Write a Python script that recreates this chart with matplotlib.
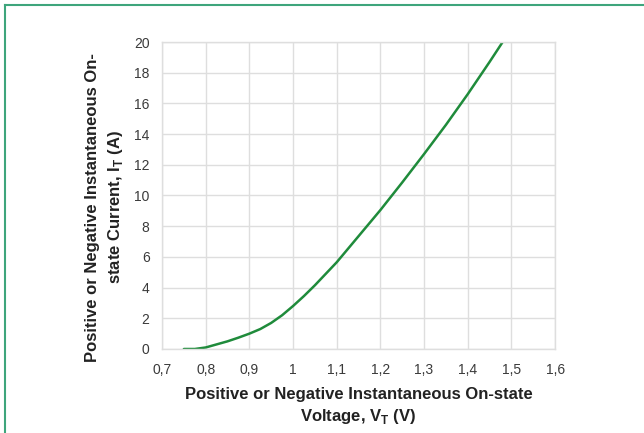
import matplotlib
matplotlib.use("Agg")
import matplotlib.pyplot as plt
from matplotlib.lines import Line2D
import numpy as np

# curve
voltage = [0.75, 0.775, 0.80, 0.825, 0.85, 0.875, 0.90, 0.925, 0.95, 0.975, 1.00, 1.025, 1.05, 1.075,
           1.10, 1.15, 1.20, 1.25, 1.30, 1.35, 1.40, 1.45, 1.48]
current = [0.0, 0.0, 0.1, 0.3, 0.5, 0.74, 1.0, 1.3, 1.7, 2.2, 2.8, 3.45, 4.15, 4.9,
           5.65, 7.35, 9.05, 10.85, 12.7, 14.6, 16.6, 18.7, 20.0]

x_ticks = [0.7, 0.8, 0.9, 1.0, 1.1, 1.2, 1.3, 1.4, 1.5, 1.6]
x_labels = ["0,7", "0,8", "0,9", "1", "1,1", "1,2", "1,3", "1,4", "1,5", "1,6"]
y_ticks = [0, 2, 4, 6, 8, 10, 12, 14, 16, 18, 20]

plt.rcParams['font.family'] = ['Liberation Sans', 'DejaVu Sans']
plt.rcParams['mathtext.fontset'] = 'custom'
plt.rcParams['mathtext.rm'] = 'Liberation Sans'
plt.rcParams['mathtext.bf'] = 'Liberation Sans:bold'

fig = plt.figure(figsize=(6.44, 4.33), dpi=100)
ax = fig.add_axes([0.2516, 0.194, 0.6103, 0.709])

ax.plot(voltage, current, color="#1f8b3b", lw=1.8, solid_capstyle="round", solid_joinstyle="round")

ax.set_xlim(0.7, 1.6)
ax.set_ylim(0, 20)
ax.set_xticks(x_ticks)
ax.set_xticklabels(x_labels)
ax.set_yticks(y_ticks)
ax.tick_params(length=0, labelsize=10, labelcolor="#3a3a3a")
ax.tick_params(axis="x", pad=10)
ax.tick_params(axis="y", pad=9)
ax.grid(True, color="#dedede", lw=1)
ax.set_axisbelow(True)
for s in ax.spines.values():
    s.set_color("#dedede")
    s.set_linewidth(1)

ax.set_xlabel("Positive or Negative Instantaneous On-state\nVoltage, V$_\\mathbf{T}$ (V)",
              fontsize=12, fontweight="bold", color="#222222", labelpad=7, linespacing=1.4)
ax.set_ylabel("Positive or Negative Instantaneous On-\nstate Current, I$_\\mathbf{T}$ (A)",
              fontsize=12, fontweight="bold", color="#222222", linespacing=1.4)
ax.yaxis.set_label_coords(-0.094, 0.461)

# green frame round the figure (top and left visible)
fig.add_artist(Line2D([5/644, 1], [1-5/433, 1-5/433], color="#3ea57c", lw=1.5))
fig.add_artist(Line2D([5/644, 5/644], [0, 1-5/433], color="#3ea57c", lw=1.5))

fig.savefig("out.png", dpi=100)
